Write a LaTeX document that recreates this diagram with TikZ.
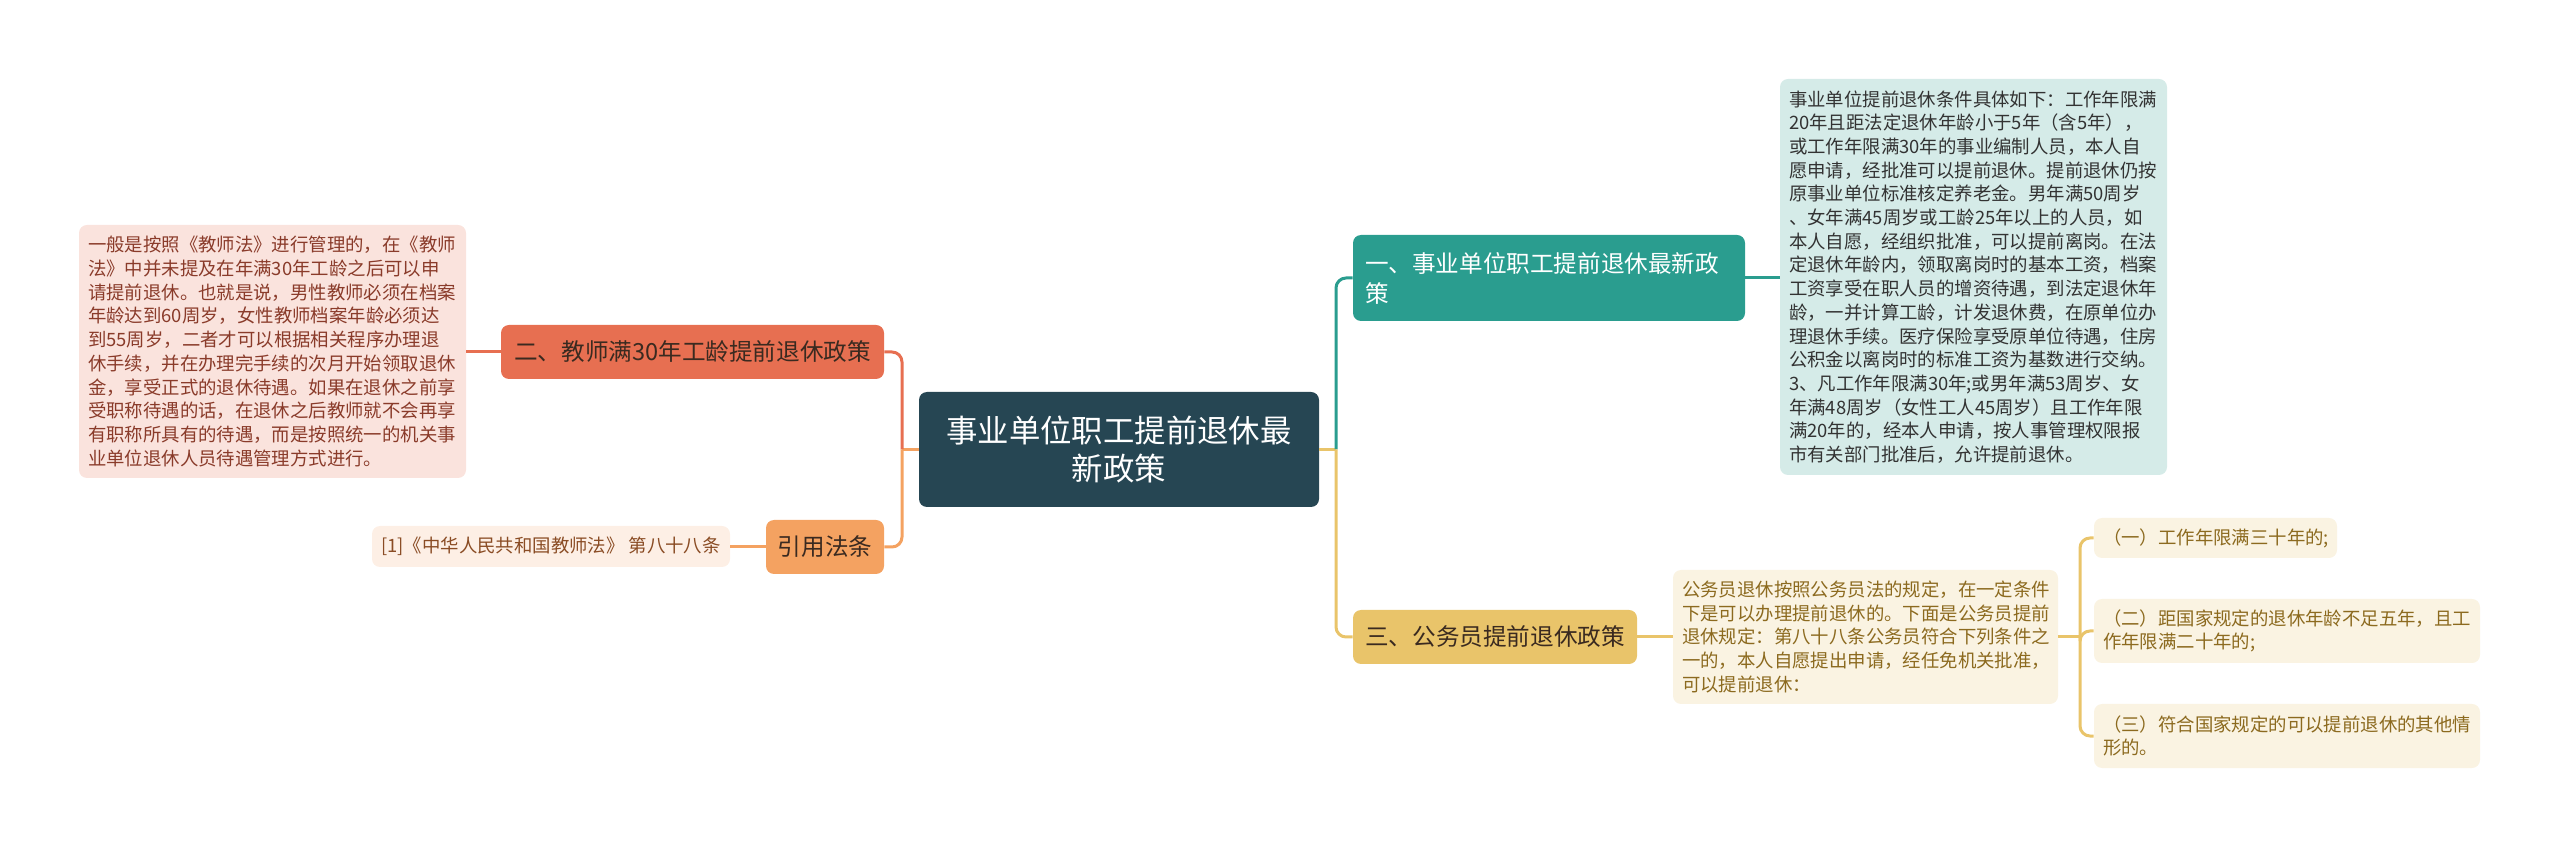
\documentclass[tikz,border=0pt]{standalone}
\usepackage{fontspec}
\setmainfont{Noto Sans CJK SC}
\definecolor{rootc}{HTML}{264653}
\definecolor{tealc}{HTML}{2A9D8F}
\definecolor{goldc}{HTML}{E9C46A}
\definecolor{redc}{HTML}{E76F51}
\definecolor{orangec}{HTML}{F4A261}
\definecolor{tealbg}{HTML}{D5EBE8}
\definecolor{goldbg}{HTML}{FAF3E2}
\definecolor{redbg}{HTML}{FAE3DD}
\definecolor{orangebg}{HTML}{FDEFE5}
\definecolor{goldtxt}{HTML}{8C6A1F}
\definecolor{redtxt}{HTML}{8A3B2A}
\definecolor{orangetxt}{HTML}{8A4C24}
\definecolor{darktxt}{HTML}{3A2A20}
\begin{document}
\begin{tikzpicture}[x=0.5pt,y=-0.5pt,
    box/.style={rounded corners=4pt,inner sep=0pt},
    topic/.style={box,minimum height=27pt,font=\fontsize{11.8pt}{15pt}\selectfont},
    note/.style={box,inner xsep=4.5pt,align=left,font=\fontsize{9.2pt}{11.85pt}\selectfont},
    link/.style={line width=1.5pt,rounded corners=5pt}]
  \useasboundingbox (0,0) rectangle (2560,849);
  \node [box,fill=rootc,text=white,align=center,minimum width=200pt,minimum height=57.5pt,
    font=\fontsize{15.7pt}{19pt}\selectfont] (root) at (1119,449.5) {事业单位职工提前退休最\\新政策};
  \node [topic,fill=tealc,text=white,inner xsep=6pt,text width=184pt,align=left,minimum height=43pt]
    (one) at (1549,278) {一、事业单位职工提前退休最新政\\策};
  \node [topic,fill=goldc,text=darktxt,minimum width=142pt] (three) at (1495,637) {三、公务员提前退休政策};
  \node [topic,fill=redc,text=darktxt,minimum width=191.5pt] (two) at (692.5,352) {二、教师满30年工龄提前退休政策};
  \node [topic,fill=orangec,text=darktxt,minimum width=59pt] (cite) at (825,547) {引用法条};
  \node [note,fill=tealbg,text=black!80,text width=184.5pt,minimum height=198pt] (onenote) at (1973.5,277)
    {事业单位提前退休条件具体如下：工作年限满\\
     20年且距法定退休年龄小于5年（含5年），\\
     或工作年限满30年的事业编制人员，本人自\\
     愿申请，经批准可以提前退休。提前退休仍按\\
     原事业单位标准核定养老金。男年满50周岁\\
     、女年满45周岁或工龄25年以上的人员，如\\
     本人自愿，经组织批准，可以提前离岗。在法\\
     定退休年龄内，领取离岗时的基本工资，档案\\
     工资享受在职人员的增资待遇，到法定退休年\\
     龄，一并计算工龄，计发退休费，在原单位办\\
     理退休手续。医疗保险享受原单位待遇，住房\\
     公积金以离岗时的标准工资为基数进行交纳。\\
     3、凡工作年限满30年;或男年满53周岁、女\\
     年满48周岁（女性工人45周岁）且工作年限\\
     满20年的，经本人申请，按人事管理权限报\\
     市有关部门批准后，允许提前退休。};
  \node [note,fill=goldbg,text=goldtxt,text width=183.5pt,minimum height=67pt] (threenote) at (1865.5,637)
    {公务员退休按照公务员法的规定，在一定条件\\
     下是可以办理提前退休的。下面是公务员提前\\
     退休规定：第八十八条公务员符合下列条件之\\
     一的，本人自愿提出申请，经任免机关批准，\\
     可以提前退休：};
  \node [note,fill=redbg,text=redtxt,text width=184.5pt,minimum height=126.5pt] (twonote) at (272.5,351.5)
    {一般是按照《教师法》进行管理的，在《教师\\
     法》中并未提及在年满30年工龄之后可以申\\
     请提前退休。也就是说，男性教师必须在档案\\
     年龄达到60周岁，女性教师档案年龄必须达\\
     到55周岁，二者才可以根据相关程序办理退\\
     休手续，并在办理完手续的次月开始领取退休\\
     金，享受正式的退休待遇。如果在退休之前享\\
     受职称待遇的话，在退休之后教师就不会再享\\
     有职称所具有的待遇，而是按照统一的机关事\\
     业单位退休人员待遇管理方式进行。};
  \node [note,fill=orangebg,text=orangetxt,align=center,minimum width=179pt,minimum height=20.5pt]
    (law) at (551,546.5) {[1]《中华人民共和国教师法》 第八十八条};
  \node [note,fill=goldbg,text=goldtxt,text width=112.5pt,minimum height=20pt] (rule1) at (2215.5,538)
    {（一）工作年限满三十年的;};
  \node [note,fill=goldbg,text=goldtxt,text width=184pt,minimum height=32pt] (rule2) at (2287,631)
    {（二）距国家规定的退休年龄不足五年，且工\\作年限满二十年的;};
  \node [note,fill=goldbg,text=goldtxt,text width=184pt,minimum height=32pt] (rule3) at (2287,736)
    {（三）符合国家规定的可以提前退休的其他情\\形的。};
  \coordinate (lj) at (902,449.5);
  \coordinate (rj) at (1336,449.5);
  \coordinate (nj) at (2080,637);
  \draw [link,orangec] (root.west) -- (lj);
  \draw [link,redc] (lj) |- (two.east);
  \draw [link,orangec] (lj) |- (cite.east);
  \draw [link,goldc] (root.east) -- (rj);
  \draw [link,tealc] (rj) |- (one.west);
  \draw [link,goldc] (rj) |- (three.west);
  \draw [link,tealc] (one.east) -- (onenote.west |- one.east);
  \draw [link,goldc] (three.east) -- (threenote.west);
  \draw [link,redc] (two.west) -- (twonote.east |- two.west);
  \draw [link,orangec] (cite.west) -- (law.east |- cite.west);
  \draw [link,goldc] (threenote.east) -- (nj);
  \draw [link,goldc] (nj) |- (rule1.west);
  \draw [link,goldc] (nj) |- (rule2.west);
  \draw [link,goldc] (nj) |- (rule3.west);
\end{tikzpicture}
\end{document}
